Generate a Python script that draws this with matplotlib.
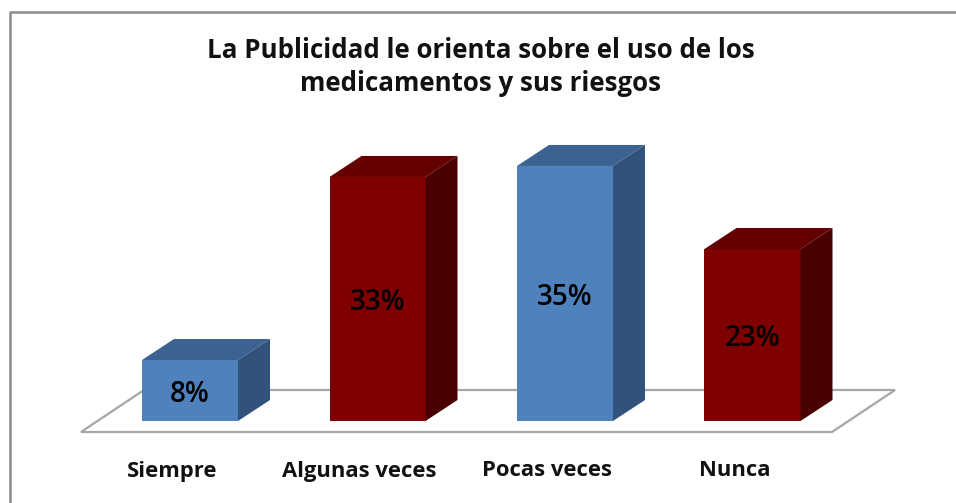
import numpy as np
import matplotlib
matplotlib.use("Agg")
import matplotlib.pyplot as plt
from matplotlib.patches import Polygon
from matplotlib.lines import Line2D

title = "La Publicidad le orienta sobre el uso de los\nmedicamentos y sus riesgos"
categories = ["Siempre", "Algunas veces", "Pocas veces", "Nunca"]
values = [8.3, 33.2, 34.7, 23.4]

W, H = 956, 503
blue = ("#4f81bd", "#3c6291", "#31527b")
red = ("#7f0000", "#640000", "#4a0000")
colours = [blue, red, blue, red]

plt.rcParams["font.family"] = "Open Sans"

fig = plt.figure(figsize=(W / 100, H / 100), dpi=100)
ax = fig.add_axes([0, 0, 1, 1])

# pixels per unit, bars sit on y=0
step = 187.5
ppu = 7.35
x0, y0 = 190, 421
ax.set_xlim(-x0 / step, (W - x0) / step)
ax.set_ylim((y0 - H) / ppu, y0 / ppu)
ax.axis("off")

bw = 96 / step
dx = 32 / step
dy = 21 / ppu

# floor
fl = -11 / ppu
fb = 31 / ppu
floor = [(-109 / step, fl), (642 / step, fl), (705 / step, fb), (-46 / step, fb)]
ax.add_patch(Polygon(floor, closed=True, fc="white", ec="#a6a6a6", lw=1.6, zorder=1))

for i, v in enumerate(values):
    l = i - bw / 2
    r = i + bw / 2
    c = colours[i]
    ax.add_patch(Polygon([(l, 0), (r, 0), (r, v), (l, v)], fc=c[0], ec="none", zorder=3))
    ax.add_patch(Polygon([(l, v), (r, v), (r + dx, v + dy), (l + dx, v + dy)], fc=c[1], ec="none", zorder=3))
    ax.add_patch(Polygon([(r, 0), (r + dx, dy), (r + dx, v + dy), (r, v)], fc=c[2], ec="none", zorder=3))
    ax.text(i, v / 2 + 0.2 - 5 / ppu, f"{v:.0f}%", ha="center", va="center", fontsize=20,
            fontweight="semibold", color="black", zorder=4)
    ax.text(i - 0.095, -50 / ppu, categories[i], ha="center", va="center",
            fontsize=15.8, fontweight="bold", color="#111111")

fig.text(481 / W, 1 - 67 / H, title, ha="center", va="center", fontsize=18.6,
         fontweight="bold", linespacing=1.33, color="#111111")

# chart frame, only left and top are visible
fig.add_artist(Line2D([9.5 / W, 9.5 / W, 1], [0, 1 - 12 / H, 1 - 12 / H], color="#8c8c8c", lw=1.8))

fig.savefig("out.png", dpi=100, facecolor="white")
